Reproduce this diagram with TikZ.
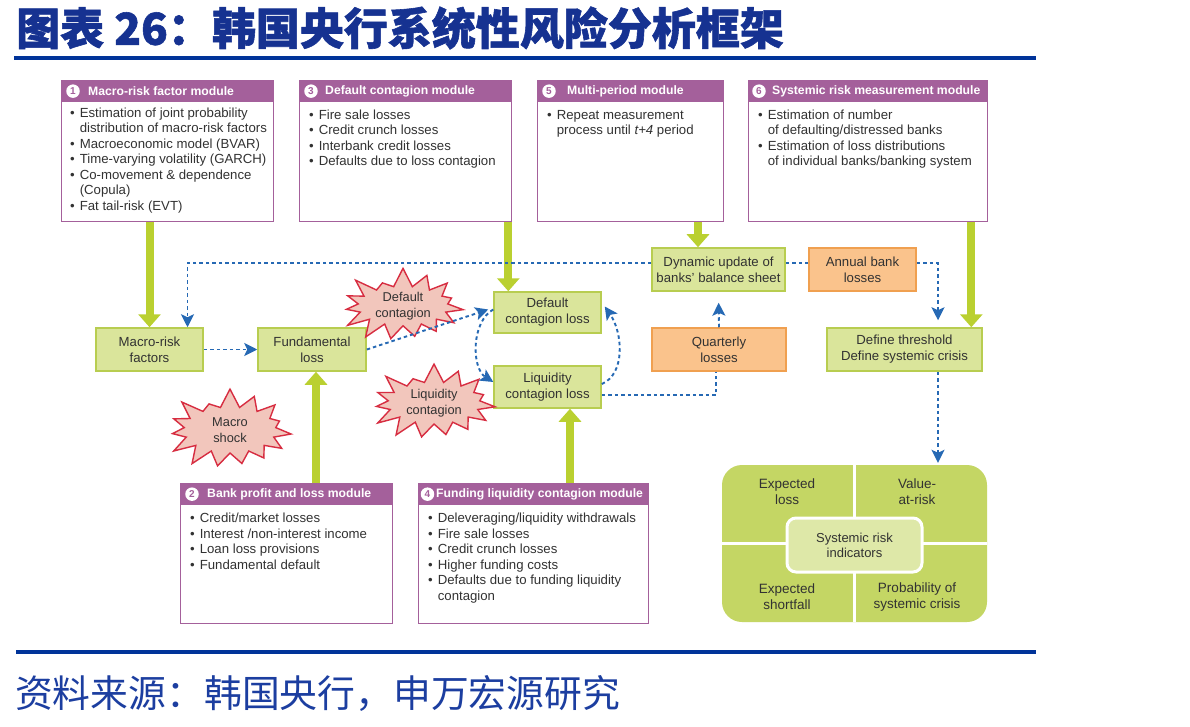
\documentclass[tikz,border=0pt]{standalone}
\usepackage{fontspec}
\setmainfont{Liberation Sans}
\newfontfamily\cjk{Noto Sans CJK SC}
\newfontfamily\cjkt[BoldFeatures={FakeBold=1.3}]{Noto Sans CJK SC}
\usetikzlibrary{shapes.symbols,arrows.meta,calc}
\definecolor{titleblue}{RGB}{22,50,145}
\definecolor{ruleblue}{RGB}{0,51,153}
\definecolor{footblue}{RGB}{28,62,160}
\definecolor{modpurple}{RGB}{164,96,155}
\definecolor{gfill}{RGB}{218,229,155}
\definecolor{gdraw}{RGB}{184,205,80}
\definecolor{ofill}{RGB}{250,195,140}
\definecolor{odraw}{RGB}{240,160,80}
\definecolor{sfill}{RGB}{242,198,188}
\definecolor{sdraw}{RGB}{215,45,65}
\definecolor{dotblue}{RGB}{38,105,180}
\definecolor{garrowc}{RGB}{186,208,48}
\definecolor{qfill}{RGB}{196,214,100}
\definecolor{cfill}{RGB}{222,232,168}
\definecolor{txt}{RGB}{50,50,50}
\tikzset{
 modframe/.style={draw=modpurple, line width=1.3pt, fill=white, inner sep=0pt, rectangle},
 modhead/.style={fill=modpurple, draw=modpurple, line width=1.3pt, minimum height=21pt, inner sep=0pt, rectangle},
 numcirc/.style={circle, fill=white, inner sep=0pt, minimum size=13.5pt, font=\fontsize{10}{10}\selectfont\bfseries, text=modpurple},
 headtext/.style={text=white, font=\fontsize{12.2}{14}\selectfont\bfseries, inner sep=0pt},
 bodytext/.style={text=txt, font=\fontsize{13.2}{15.5}\selectfont, inner sep=0pt, anchor=base west},
 gbox/.style={rectangle, draw=gdraw, fill=gfill, line width=1.5pt, align=center, text=txt, font=\fontsize{13.2}{16}\selectfont, inner sep=0pt},
 obox/.style={gbox, draw=odraw, fill=ofill},
 burst/.style={starburst, draw=sdraw, fill=sfill, line width=1.4pt, align=center, text=txt, font=\fontsize{12.8}{16}\selectfont, starburst points=15, starburst point height=19pt, random starburst=20, inner sep=0pt},
 garrow/.style={draw=garrowc, line width=8pt, -{Triangle[width=22pt,length=13pt]}},
 dotline/.style={draw=dotblue, line width=1.9pt, dash pattern=on 3.5pt off 3pt},
 dotarrow/.style={dotline, -{Stealth[length=13pt,width=13pt,inset=3pt]}},
 qtext/.style={align=center, text=txt, font=\fontsize{13.5}{16}\selectfont, inner sep=0pt},
}
\newcommand\modbox[9]{%
 \node[modframe, anchor=north west, minimum width=#4pt, minimum height=#5pt] (#1) at (#2,#3) {};
 \node[modhead, anchor=north west, minimum width=#4pt] (#1h) at (#2,#3) {};
 \node[numcirc] (#1n) at ([xshift=#9pt]#1h.west) {#6};
 \node[headtext, anchor=west] (#1t) at ([xshift=#8pt]#1h.west) {#7};
}
\begin{document}
\begin{tikzpicture}[x=1pt,y=-1pt]
\useasboundingbox[fill=white] (0,0) rectangle (1190,727);
\pgfmathsetseed{7}
% title and rules
\node[anchor=west, inner sep=0pt, text=titleblue, font=\cjkt\bfseries\fontsize{44}{44}\selectfont] (title) at (16,28) {图表 26：韩国央行系统性风险分析框架};
\draw[ruleblue, line width=4pt] (14,58) coordinate (r1a) -- (1036,58) coordinate (r1b);
\draw[ruleblue, line width=3.5pt] (16,652) coordinate (r2a) -- (1036,652) coordinate (r2b);
\node[anchor=west, inner sep=0pt, text=footblue, font=\cjk\fontsize{37.8}{38}\selectfont] (src) at (15,693) {资料来源：韩国央行，申万宏源研究};

% modules
\modbox{m1}{61}{80}{212}{141}{1}{Macro-risk factor module}{27}{12}
\node[bodytext] (m1b) at (70,117.5) {\begin{tabular}[t]{@{}l@{\hspace{5pt}}l@{}}•&Estimation of joint probability\\&distribution of macro-risk factors\\•&Macroeconomic model (BVAR)\\•&Time-varying volatility (GARCH)\\•&Co-movement \& dependence\\&(Copula)\\•&Fat tail-risk (EVT)\end{tabular}};
\modbox{m3}{299}{80}{212}{141}{3}{Default contagion module}{26}{12}
\node[bodytext] (m3b) at (309,119.5) {\begin{tabular}[t]{@{}l@{\hspace{5pt}}l@{}}•&Fire sale losses\\•&Credit crunch losses\\•&Interbank credit losses\\•&Defaults due to loss contagion\end{tabular}};
\modbox{m5}{537}{80}{186}{141}{5}{Multi-period module}{30}{12}
\node[bodytext] (m5b) at (547,119.5) {\begin{tabular}[t]{@{}l@{\hspace{5pt}}l@{}}•&Repeat measurement\\&process until \textit{t+4} period\end{tabular}};
\modbox{m6}{748}{80}{239}{141}{6}{Systemic risk measurement module}{24}{11}
\node[bodytext] (m6b) at (758,119.5) {\begin{tabular}[t]{@{}l@{\hspace{5pt}}l@{}}•&Estimation of number\\&of defaulting/distressed banks\\•&Estimation of loss distributions\\&of individual banks/banking system\end{tabular}};
\modbox{m2}{180}{483}{212}{140}{2}{Bank profit and loss module}{27}{12}
\node[bodytext] (m2b) at (190,522.5) {\begin{tabular}[t]{@{}l@{\hspace{5pt}}l@{}}•&Credit/market losses\\•&Interest /non-interest income\\•&Loan loss provisions\\•&Fundamental default\end{tabular}};
\modbox{m4}{418}{483}{230}{140}{4}{Funding liquidity contagion module}{18}{9.5}
\node[bodytext] (m4b) at (428,522.5) {\begin{tabular}[t]{@{}l@{\hspace{5pt}}l@{}}•&Deleveraging/liquidity withdrawals\\•&Fire sale losses\\•&Credit crunch losses\\•&Higher funding costs\\•&Defaults due to funding liquidity\\&contagion\end{tabular}};

% process boxes
\node[gbox, minimum width=107pt, minimum height=43pt] (mrf) at (149.5,349.5) {Macro-risk\\factors};
\node[gbox, minimum width=108pt, minimum height=43pt] (fl) at (312,349.5) {Fundamental\\loss};
\node[gbox, minimum width=107pt, minimum height=41pt] (dcl) at (547.5,312.5) {Default\\contagion loss};
\node[gbox, minimum width=107pt, minimum height=42pt] (lcl) at (547.5,387) {Liquidity\\contagion loss};
\node[gbox, minimum width=133pt, minimum height=43pt] (dyn) at (718.5,269.5) {Dynamic update of\\banks' balance sheet};
\node[obox, minimum width=107pt, minimum height=43pt] (ann) at (862.5,269.5) {Annual bank\\losses};
\node[obox, minimum width=134pt, minimum height=43pt] (qua) at (719,349.5) {Quarterly\\losses};
\node[gbox, minimum width=155pt, minimum height=43pt] (dt) at (904.5,349.5) {Define threshold\\Define systemic crisis};

% indicators block
\node[rectangle, rounded corners=20pt, fill=qfill, minimum width=265pt, minimum height=157pt, inner sep=0pt] (ind) at (854.5,543.5) {};
\draw[white, line width=3pt] (ind.north) -- (ind.south);
\draw[white, line width=3pt] (ind.west) -- (ind.east);
\node[rectangle, rounded corners=9pt, fill=cfill, draw=white, line width=3pt, minimum width=135pt, minimum height=54pt, qtext, font=\fontsize{13}{15}\selectfont] (sri) at (854.5,545) {Systemic risk\\indicators};
\node[qtext] (q1) at (787,492) {Expected\\loss};
\node[qtext] (q2) at (917,492) {Value-\\at-risk};
\node[qtext] (q3) at (787,597) {Expected\\shortfall};
\node[qtext] (q4) at (917,597) {Probability of\\systemic crisis};

% starbursts
\node[burst, minimum width=128pt, minimum height=76pt] (dcs) at (403,306) {Default\\contagion};
\node[burst, minimum width=130pt, minimum height=80pt] (lcs) at (434,403) {Liquidity\\contagion};
\node[burst, minimum width=130pt, minimum height=84pt] (mss) at (230,430) {Macro\\shock};

% thick green arrows
\draw[garrow] (m1.south -| mrf) -- (mrf.north);
\draw[garrow] ([xshift=-4pt]m3.south east) -- ([xshift=-4pt]m3.south east |- dcl.north);
\draw[garrow] ([xshift=-20.5pt]dyn.north |- m5.south) -- ([xshift=-20.5pt]dyn.north);
\draw[garrow] ([xshift=-17pt]m6.south east) -- ([xshift=-17pt]m6.south east |- dt.north);
\draw[garrow] ([xshift=4pt]fl.south |- m2.north) -- ([xshift=4pt]fl.south);
\draw[garrow] ([xshift=22.5pt]lcl.south |- m4.north) -- ([xshift=22.5pt]lcl.south);

% dotted blue connectors
\draw[dotarrow] (mrf.east) -- (fl.west);
\draw[dotarrow] (fl.east) -- ([xshift=-5pt,yshift=3pt]dcl.west);
\draw[dotarrow] ([yshift=3pt]dcl.west) .. controls +(-22,12) and +(-22,-14) .. ([yshift=5pt]lcl.west);
\draw[dotarrow] ([yshift=3pt]lcl.east) .. controls +(24,-10) and +(18,26) .. ([xshift=3pt,yshift=6pt]dcl.east);
\draw[dotarrow] ([yshift=6.5pt]dyn.west) -| ([xshift=38pt]mrf.north);
\draw[dotline] ([yshift=6.5pt]dyn.east) -- ([yshift=6.5pt]ann.west);
\draw[dotarrow, shorten >=7pt] ([yshift=6.5pt]ann.east) -| ([xshift=33.5pt]dt.north);
\draw[dotarrow, shorten >=2pt] ([xshift=33.5pt]dt.south) -- ([xshift=33.5pt]dt.south |- ind.north);
\draw[dotarrow, shorten >=11pt] (qua.north) -- (dyn.south);
\draw[dotline] ([yshift=-8pt]lcl.east) -| ([xshift=-3pt]qua.south);
\end{tikzpicture}
\end{document}
